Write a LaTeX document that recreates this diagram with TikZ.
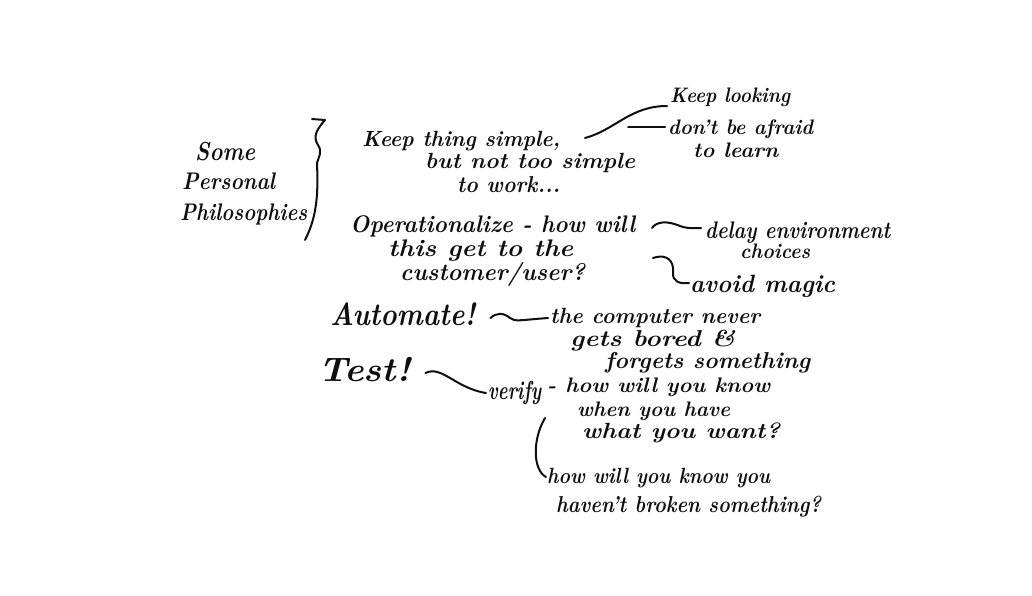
\documentclass[tikz,border=0pt]{standalone}
\usepackage{graphicx}
\newcommand\hw[3][24]{\resizebox{#2pt}{\height}{\fontsize{#1}{#1}\selectfont #3}}
\begin{document}
\begin{tikzpicture}[x=1pt,y=-1pt,
  txt/.style={anchor=base west,inner sep=0pt,font=\bfseries\itshape,text=ink},
  ink/.style={draw=ink,line width=2pt,line cap=round,line join=round}]
\definecolor{ink}{RGB}{15,15,15}
\useasboundingbox[fill=white] (0,0) rectangle (1032,595);
% title
\node[txt] (some) at (195,160) {\hw[26]{60}{Some}};
\node[txt] (pers) at (182,189) {\hw[24]{93}{Personal}};
\node[txt] (phil) at (180,220) {\hw[24]{127}{Philosophies}};
% brace
\coordinate (bA) at (312,119);
\coordinate (bB) at (318,145);
\coordinate (bC) at (305,240);
\draw[ink] (bA) -- (325,120) .. controls (318,128) and (312,136) .. (bB) .. controls (323,152) and (318,158) .. (317,163) .. controls (318,190) and (318,215) .. (bC);
% keep simple
\node[txt] (k1) at (362,146) {\hw[22]{198}{Keep thing simple,}};
\node[txt] (k2) at (425,168) {\hw[22]{210}{but not too simple}};
\node[txt] (k3) at (457,192) {\hw[23]{103}{to work...}};
\node[txt] (look) at (670,102) {\hw[21]{120}{Keep looking}};
\node[txt] (afr1) at (668,134) {\hw[21]{145}{don't be afraid}};
\node[txt] (afr2) at (693,157) {\hw[21]{85}{to learn}};
\coordinate (kc) at (585,138);
\coordinate (kb) at (628,127);
\draw[ink] (kc) .. controls (615,130) and (630,106) .. ([xshift=-3pt,yshift=-4pt]look.base west);
\draw[ink] (kb) -- ([xshift=-3pt,yshift=7pt]afr1.base west);
% operationalize
\node[txt] (op1) at (350,232) {\hw{285}{Operationalize - how will}};
\node[txt] (op2) at (388,256) {\hw{185}{this get to the}};
\node[txt] (op3) at (400,280) {\hw{185}{customer/user?}};
\node[txt] (del1) at (705,238) {\hw{185}{delay environment}};
\node[txt] (del2) at (740,258) {\hw[21]{70}{choices}};
\node[txt] (mag) at (690,292) {\hw[25]{145}{avoid magic}};
\coordinate (oc) at (652,228);
\draw[ink] (oc) .. controls (656,222) and (666,220) .. (680,226) .. controls (688,229) and (696,228) .. ([xshift=-4pt,yshift=10pt]del1.base west);
\coordinate (ob) at (653,258);
\draw[ink] (ob) .. controls (668,253) and (674,262) .. (673,272) .. controls (672,282) and (680,284) .. ([xshift=-1pt,yshift=9pt]mag.base west);
% automate
\node[txt] (aut) at (330,325) {\hw[32]{145}{Automate!}};
\node[txt] (cp1) at (550,323) {\hw[22]{210}{the computer never}};
\node[txt] (cp2) at (570,346) {\hw[23]{165}{gets bored \&}};
\node[txt] (cp3) at (605,368) {\hw[23]{205}{forgets something}};
\draw[ink] ([xshift=15pt,yshift=7pt]aut.base east) .. controls (496,313) and (503,312) .. (510,318) .. controls (515,322) and (520,320) .. ([xshift=-2pt,yshift=5pt]cp1.base west);
% test
\node[txt] (test) at (318,381) {\hw[34]{92}{Test!}};
\node[txt] (ver) at (488,399) {\hw[26]{53}{verify}};
\node[txt] (hw1) at (547,392) {\hw[21]{223}{- how will you know}};
\node[txt] (hw2) at (577,416) {\hw[21]{153}{when you have}};
\node[txt] (hw3) at (582,438) {\hw[22]{198}{what you want?}};
\node[txt] (hb1) at (547,483) {\hw[22]{223}{how will you know you}};
\node[txt] (hb2) at (556,512) {\hw[23]{265}{haven't broken something?}};
\draw[ink] ([xshift=15pt,yshift=8pt]test.base east) .. controls (442,365) and (455,388) .. ([xshift=-2pt,yshift=6pt]ver.base west);
\coordinate (vb) at (545,418);
\draw[ink] (vb) .. controls (532,440) and (533,470) .. ([xshift=-1pt,yshift=6pt]hb1.base west);
\end{tikzpicture}
\end{document}
